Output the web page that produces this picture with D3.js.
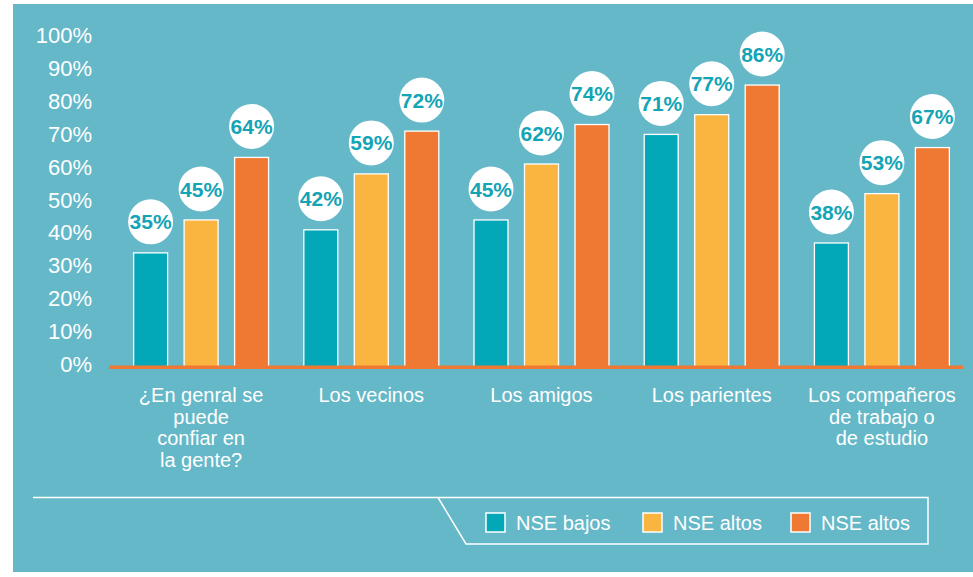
<!DOCTYPE html>
<html>
<head>
<meta charset="utf-8">
<script src="https://cdn.jsdelivr.net/npm/d3@7"></script>
<style>
  body { margin: 0; background: #fff; }
  svg { display: block; font-family: "Liberation Sans", Arial, sans-serif; }
</style>
</head>
<body>
<div id="chart"></div>
<script>
// chart data
var categories = [
  ["¿En genral se", "puede", "confiar en", "la gente?"],
  ["Los vecinos"],
  ["Los amigos"],
  ["Los parientes"],
  ["Los compañeros", "de trabajo o", "de estudio"]
];
var seriesNames = ["NSE bajos", "NSE altos", "NSE altos"];
var nseBajos = [35, 42, 45, 71, 38];
var nseAltos1 = [45, 59, 62, 77, 53];
var nseAltos2 = [64, 72, 74, 86, 67];
var yTicks = [0, 10, 20, 30, 40, 50, 60, 70, 80, 90, 100];

var series = [nseBajos, nseAltos1, nseAltos2];
var colors = ["#02a8b8", "#f9b540", "#ef7833"];

var width = 973, height = 577;

var svg = d3.select("#chart").append("svg")
    .attr("width", width)
    .attr("height", height);

// teal panel
svg.append("rect")
    .attr("x", 13).attr("y", 4)
    .attr("width", 960).attr("height", 568)
    .attr("fill", "#65b8c8");

var x0 = d3.scaleBand()
    .domain(d3.range(categories.length))
    .range([116, 967])
    .paddingInner(0.207)
    .paddingOuter(0.1035);

var x1 = d3.scaleBand()
    .domain(d3.range(series.length))
    .range([0, x0.bandwidth()])
    .paddingInner(0.327);

var y = d3.scaleLinear()
    .domain([0, 100])
    .range([368, 39]);

// y axis labels
var yAxis = d3.axisLeft(y)
    .tickValues(yTicks)
    .tickFormat(function(d) { return d + "%"; })
    .tickSize(0)
    .tickPadding(0);

var ya = svg.append("g")
    .attr("transform", "translate(92,-3.5)")
    .call(yAxis);
ya.select(".domain").remove();
ya.selectAll("text")
    .attr("fill", "#fff")
    .style("font-size", "22px")
    .style("font-family", "'Liberation Sans', Arial, sans-serif");

// bars
var groups = svg.selectAll(".grp")
    .data(categories)
    .enter().append("g")
    .attr("class", "grp")
    .attr("transform", function(d, i) { return "translate(" + x0(i) + ",0)"; });

groups.each(function(c, i) {
    var g = d3.select(this);
    series.forEach(function(s, j) {
        g.append("rect")
            .attr("x", x1(j))
            .attr("y", y(s[i]))
            .attr("width", x1.bandwidth())
            .attr("height", y(0) - y(s[i]))
            .attr("fill", colors[j])
            .attr("stroke", "#fff")
            .attr("stroke-width", 1.3);
    });
});

// baseline
svg.append("line")
    .attr("x1", 109).attr("x2", 963)
    .attr("y1", y(0) - 0.7).attr("y2", y(0) - 0.7)
    .attr("stroke", "#ef7833")
    .attr("stroke-width", 3.4);

// value bubbles
groups.each(function(c, i) {
    var g = d3.select(this);
    series.forEach(function(s, j) {
        var cx = x1(j) + x1.bandwidth() / 2;
        var cy = y(s[i]) - 31;
        g.append("circle")
            .attr("cx", cx).attr("cy", cy)
            .attr("r", 22.5)
            .attr("fill", "#fff");
        g.append("text")
            .attr("x", cx).attr("y", cy)
            .attr("dy", "0.36em")
            .attr("text-anchor", "middle")
            .attr("fill", "#13a4b6")
            .style("font-size", "21px")
            .style("font-weight", "bold")
            .text(s[i] + "%");
    });
});

// category labels
groups.append("text")
    .attr("text-anchor", "middle")
    .attr("fill", "#fff")
    .style("font-size", "20px")
    .selectAll("tspan")
    .data(function(d) { return d; })
    .enter().append("tspan")
    .attr("x", x0.bandwidth() / 2)
    .attr("y", function(d, k) { return 402 + k * 21.7; })
    .text(function(d) { return d; });

// legend frame
svg.append("path")
    .attr("d", "M33,497.5H928V544H466L438,497.5")
    .attr("fill", "none")
    .attr("stroke", "#fff")
    .attr("stroke-width", 1.5);

var legendX = [486, 643, 791];
var legend = svg.selectAll(".legend")
    .data(seriesNames)
    .enter().append("g")
    .attr("class", "legend")
    .attr("transform", function(d, i) { return "translate(" + legendX[i] + ",513)"; });

legend.append("rect")
    .attr("width", 19).attr("height", 19)
    .attr("fill", function(d, i) { return colors[i]; })
    .attr("stroke", "#fff")
    .attr("stroke-width", 1.5);

legend.append("text")
    .attr("x", 30).attr("y", 9.5)
    .attr("dy", "0.35em")
    .attr("fill", "#fff")
    .style("font-size", "20px")
    .text(function(d) { return d; });
</script>
</body>
</html>
